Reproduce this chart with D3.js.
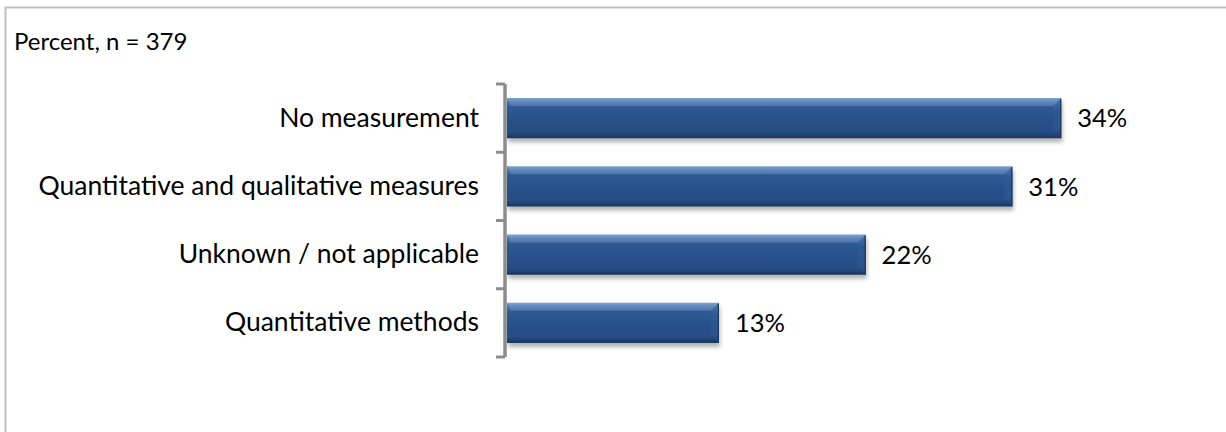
<!DOCTYPE html>
<html>
<head>
<meta charset="utf-8">
<script src="https://cdn.jsdelivr.net/npm/d3@7"></script>
<style>
  html, body { margin: 0; padding: 0; background: #fff; }
  svg { display: block; }
  text { font-family: Lato, "Open Sans", sans-serif; fill: #000; }
</style>
</head>
<body>
<svg id="chart" width="1226" height="432"></svg>
<script>
// Survey: how is the outcome measured?
const categories = [
  "No measurement",
  "Quantitative and qualitative measures",
  "Unknown / not applicable",
  "Quantitative methods"
];
const values = [34, 31, 22, 13];
const valueLabels = ["34%", "31%", "22%", "13%"];
const subtitle = "Percent, n = 379";

const W = 1226, H = 432;
const FONT = "Lato, 'Open Sans', sans-serif";
const svg = d3.select("#chart");

// Frame around the chart area
svg.append("rect")
  .attr("x", 5.5).attr("y", 7.5)
  .attr("width", W + 10).attr("height", H + 10)
  .attr("fill", "none").attr("stroke", "#bfbfbf").attr("stroke-width", 2);

svg.append("text")
  .attr("x", 14).attr("y", 50)
  .attr("font-size", 24)
  .text(subtitle);

const axisX = 505;
const x = d3.scaleLinear().domain([0, 40]).range([axisX + 2, axisX + 2 + 652]);
const y = d3.scaleBand().domain(categories).range([84, 357]).paddingInner(0.41).paddingOuter(0.205);

const defs = svg.append("defs");
const grad = defs.append("linearGradient").attr("id", "barGrad")
  .attr("x1", 0).attr("y1", 0).attr("x2", 0).attr("y2", 1);
[
  [0, "#6a93cc"], [0.08, "#4c78b4"], [0.22, "#2f5a95"], [0.5, "#28528a"],
  [0.85, "#254d84"], [0.93, "#1f406e"], [1, "#1a3558"]
].forEach(([o, c]) => grad.append("stop").attr("offset", o).attr("stop-color", c));

const endGrad = defs.append("linearGradient").attr("id", "endGrad")
  .attr("x1", 0).attr("y1", 0).attr("x2", 0).attr("y2", 1);
[
  [0, "#4a76b2"], [0.3, "#2e5994"], [0.8, "#2a5490"], [1, "#1f406e"]
].forEach(([o, c]) => endGrad.append("stop").attr("offset", o).attr("stop-color", c));

const shadow = defs.append("filter").attr("id", "shadow")
  .attr("x", "-5%").attr("y", "-20%").attr("width", "110%").attr("height", "160%");
shadow.append("feGaussianBlur").attr("in", "SourceAlpha").attr("stdDeviation", 2.2);
shadow.append("feOffset").attr("dx", 1).attr("dy", 4).attr("result", "off");
shadow.append("feComponentTransfer").append("feFuncA").attr("type", "linear").attr("slope", 0.3);
const merge = shadow.append("feMerge");
merge.append("feMergeNode");
merge.append("feMergeNode").attr("in", "SourceGraphic");

const rows = categories.map((c, i) => ({ c, v: values[i], label: valueLabels[i] }));

const bars = svg.append("g").selectAll("g.bar")
  .data(rows)
  .join("g").attr("class", "bar").attr("filter", "url(#shadow)");

bars.append("rect")
  .attr("x", x(0))
  .attr("y", d => y(d.c))
  .attr("width", d => x(d.v) - x(0))
  .attr("height", y.bandwidth())
  .attr("fill", "url(#barGrad)");

// bevelled right end of each bar
const bev = 8;
bars.append("path")
  .attr("d", d => {
    const x1 = x(d.v), y0 = y(d.c), y1 = y0 + y.bandwidth();
    return `M${x1 - bev},${y0 + bev} L${x1},${y0} L${x1},${y1} L${x1 - bev},${y1 - bev} Z`;
  })
  .attr("fill", "url(#endGrad)");
// top bevel highlight
bars.append("path")
  .attr("d", d => {
    const x1 = x(d.v), y0 = y(d.c);
    return `M${x(0)},${y0} L${x1},${y0} L${x1 - bev},${y0 + bev} L${x(0) + 4},${y0 + bev} Z`;
  })
  .attr("fill", "#ffffff").attr("opacity", 0.14);
// dark outer edge on the right end
bars.append("line")
  .attr("x1", d => x(d.v) - 0.5).attr("x2", d => x(d.v) - 0.5)
  .attr("y1", d => y(d.c) + 1).attr("y2", d => y(d.c) + y.bandwidth())
  .attr("stroke", "#1c3960").attr("stroke-width", 1.2);

// value labels
svg.append("g").selectAll("text")
  .data(rows)
  .join("text")
  .attr("x", d => x(d.v) + 16)
  .attr("y", d => y(d.c) + y.bandwidth() / 2)
  .attr("dy", "0.36em")
  .attr("font-size", 25.5)
  .text(d => d.label);

// category axis
const axis = d3.axisLeft(y).tickSize(0).tickPadding(26);
const gA = svg.append("g").attr("transform", `translate(${axisX},0)`).call(axis);
gA.select(".domain").remove();
gA.selectAll("text").attr("font-size", 26.5).attr("fill", "#000")
  .style("font-family", FONT);

// axis line with tick marks between categories
const boundaries = d3.range(categories.length + 1).map(i => y.range()[0] + i * y.step());
svg.append("line")
  .attr("x1", axisX).attr("x2", axisX)
  .attr("y1", y.range()[0]).attr("y2", y.range()[1])
  .attr("stroke", "#8c8c8c").attr("stroke-width", 3.5);
svg.append("g").selectAll("line").data(boundaries).join("line")
  .attr("x1", axisX - 9).attr("x2", axisX)
  .attr("y1", d => d).attr("y2", d => d)
  .attr("stroke", "#8c8c8c").attr("stroke-width", 3);
</script>
</body>
</html>
